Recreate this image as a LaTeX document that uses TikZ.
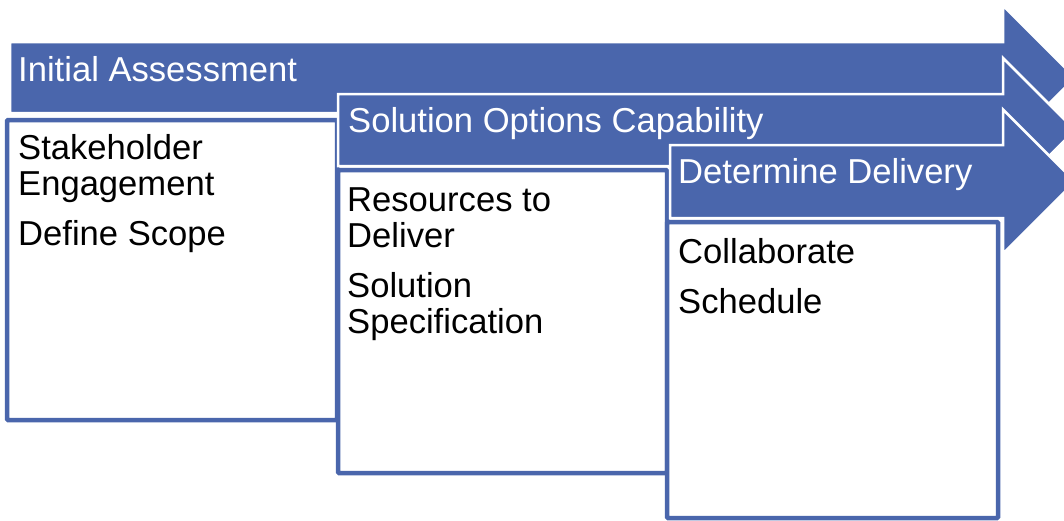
\documentclass[tikz,border=0pt]{standalone}
\usepackage{fontspec}
\setmainfont{Liberation Sans}
\definecolor{stageblue}{HTML}{4A66AC}
\begin{document}
\begin{tikzpicture}[x=1pt,y=-1pt,
  stage/.style={fill=stageblue,draw=white,line width=2.5pt,line join=miter},
  taskbox/.style={draw=stageblue,fill=white,line width=4.5pt,rounded corners=1pt},
  stagelabel/.style={anchor=base west,inner sep=0pt,text=white,font=\fontsize{34.6}{36}\selectfont},
  tasklabel/.style={anchor=base west,inner sep=0pt,align=left,font=\fontsize{34.6}{36}\selectfont}]
  \useasboundingbox (0,0) rectangle (1064,520);
  \clip (0,0) rectangle (1064,520);
  \coordinate (tip1) at (1075,77.5);
  \coordinate (tip2) at (1075,130);
  \coordinate (tip3) at (1075,181.5);
  % initial assessment
  \draw[stage] (10,42) -- (1003,42) -- (1003,5.5) -- (tip1) -- (1003,149.5) -- (1003,113) -- (10,113) -- cycle;
  \node[stagelabel] (assess) at (18,81) {Initial Assessment};
  \draw[taskbox] (7,120) rectangle (337,420);
  \node[tasklabel] (assesstasks) at (18,245) {Stakeholder\\Engagement\\[14pt]Define Scope};
  % solution options
  \draw[stage] (338,94) -- (1003,94) -- (1003,58) -- (tip2) -- (1003,202) -- (1003,166) -- (338,166) -- cycle;
  \node[stagelabel] (options) at (348,132) {Solution Options Capability};
  \draw[taskbox] (338,170) rectangle (667,473);
  \node[tasklabel] (optiontasks) at (347,333) {Resources to\\Deliver\\[14pt]Solution\\Specification};
  % delivery
  \draw[stage] (670,145) -- (1003,145) -- (1003,109.5) -- (tip3) -- (1003,253.5) -- (1003,218) -- (670,218) -- cycle;
  \node[stagelabel] (delivery) at (678,183) {Determine Delivery};
  \draw[taskbox] (667,222) rectangle (998,518);
  \node[tasklabel] (deliverytasks) at (678,313) {Collaborate\\[14pt]Schedule};
\end{tikzpicture}
\end{document}
